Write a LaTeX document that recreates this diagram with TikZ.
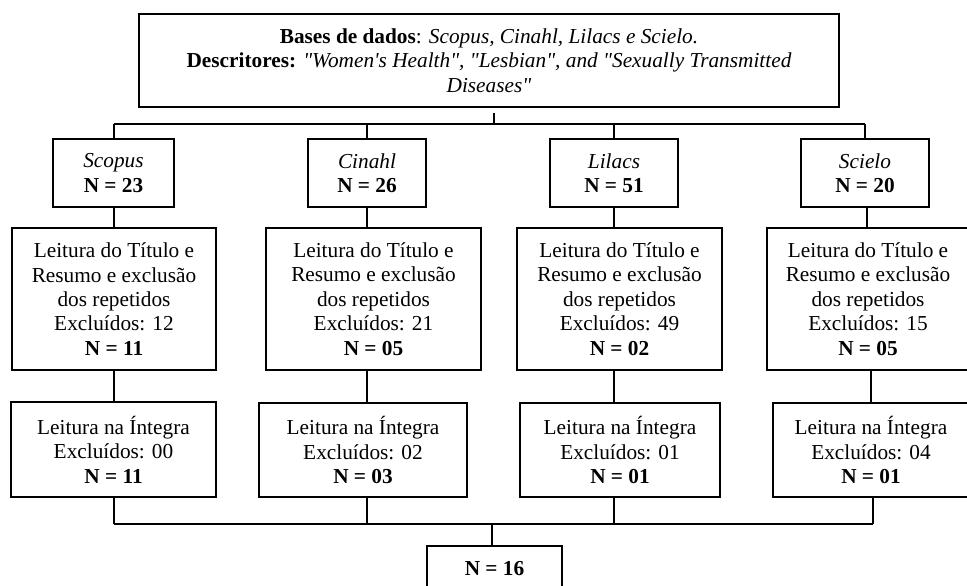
\documentclass[tikz,border=0pt]{standalone}
\usepackage{fontspec}
\newfontfamily\tnr{Liberation Serif}
\begin{document}
\begin{tikzpicture}[x=1pt,y=-1pt,
  box/.style={draw, line width=2pt, inner sep=0pt, align=center,
    font=\tnr\fontsize{21.3}{24.4}\selectfont},
  bus/.style={line width=2.2pt},
  stub/.style={line width=1.1pt}]
\useasboundingbox (0,0) rectangle (967,586);
% boxes
\node[box, minimum width=700pt, minimum height=93pt] (top) at (489,60.5)
  {\textbf{Bases de dados}: \textit{Scopus, Cinahl, Lilacs e Scielo.}\\
   \textbf{Descritores:} \textit{"Women's Health", "Lesbian", and "Sexually Transmitted}\\
   \textit{Diseases"}};
\node[box, minimum width=121pt, minimum height=68pt] (db1) at (113.5,173) {\textit{Scopus}\\\textbf{N = 23}};
\node[box, minimum width=118pt, minimum height=68pt] (db2) at (367,173) {\textit{Cinahl}\\\textbf{N = 26}};
\node[box, minimum width=128pt, minimum height=68pt] (db3) at (614,173) {\textit{Lilacs}\\\textbf{N = 51}};
\node[box, minimum width=128pt, minimum height=68pt] (db4) at (865,173) {\textit{Scielo}\\\textbf{N = 20}};
\node[box, minimum width=204pt, minimum height=142pt] (r2a) at (114,299)
  {Leitura do Título e\\Resumo e exclusão\\dos repetidos\\Excluídos: 12\\\textbf{N = 11}};
\node[box, minimum width=215pt, minimum height=142pt] (r2b) at (373.5,299)
  {Leitura do Título e\\Resumo e exclusão\\dos repetidos\\Excluídos: 21\\\textbf{N = 05}};
\node[box, minimum width=205pt, minimum height=142pt] (r2c) at (619.5,299)
  {Leitura do Título e\\Resumo e exclusão\\dos repetidos\\Excluídos: 49\\\textbf{N = 02}};
\node[box, minimum width=202pt, minimum height=142pt] (r2d) at (868,299)
  {Leitura do Título e\\Resumo e exclusão\\dos repetidos\\Excluídos: 15\\\textbf{N = 05}};
\node[box, minimum width=205pt, minimum height=95pt] (r3a) at (113.5,449.5)
  {Leitura na Íntegra\\Excluídos: 00\\\textbf{N = 11}};
\node[box, minimum width=208pt, minimum height=94pt] (r3b) at (363,450)
  {Leitura na Íntegra\\Excluídos: 02\\\textbf{N = 03}};
\node[box, minimum width=200pt, minimum height=94pt] (r3c) at (620,450)
  {Leitura na Íntegra\\Excluídos: 01\\\textbf{N = 01}};
\node[box, minimum width=196pt, minimum height=94pt] (r3d) at (871,450)
  {Leitura na Íntegra\\Excluídos: 04\\\textbf{N = 01}};
\node[box, minimum width=135pt, minimum height=46pt] (fin) at (494.5,569) {\textbf{N = 16}};
% stub columns
\coordinate (xT) at (494,0);
\coordinate (xA) at (114,0);
\coordinate (xB) at (367,0);
\coordinate (xC) at (614,0);
\coordinate (xD1) at (865,0);
\coordinate (xD2) at (867,0);
\coordinate (xD3) at (871,0);
\coordinate (xD4) at (873,0);
\coordinate (xF) at (492,0);
% buses
\coordinate (ubL) at (114,124);
\coordinate (ubR) at (865,124);
\coordinate (lbL) at (114,524);
\coordinate (lbR) at (873,524);
\draw[bus] (ubL) -- (ubR);
\draw[bus] (lbL) -- (lbR);
% connectors
\draw[stub] (xT |- top.south) ++(0,5) -- (xT |- ubL);
\draw[stub] (xA |- ubL) -- (xA |- db1.north);
\draw[stub] (xB |- ubL) -- (xB |- db2.north);
\draw[stub] (xC |- ubL) -- (xC |- db3.north);
\draw[stub] (xD1 |- ubL) -- (xD1 |- db4.north);
\draw[stub] (xA |- db1.south) -- (xA |- r2a.north);
\draw[stub] (xB |- db2.south) -- (xB |- r2b.north);
\draw[stub] (xC |- db3.south) -- (xC |- r2c.north);
\draw[stub] (xD2 |- db4.south) -- (xD2 |- r2d.north);
\draw[stub] (xA |- r2a.south) -- (xA |- r3a.north);
\draw[stub] (xB |- r2b.south) -- (xB |- r3b.north);
\draw[stub] (xC |- r2c.south) -- (xC |- r3c.north);
\draw[stub] (xD3 |- r2d.south) -- (xD3 |- r3d.north);
\draw[stub] (xA |- r3a.south) -- (xA |- lbL);
\draw[stub] (xB |- r3b.south) -- (xB |- lbL);
\draw[stub] (xC |- r3c.south) -- (xC |- lbL);
\draw[stub] (xD4 |- r3d.south) -- (xD4 |- lbL);
\draw[stub] (xF |- lbL) -- (xF |- fin.north);
\end{tikzpicture}
\end{document}
